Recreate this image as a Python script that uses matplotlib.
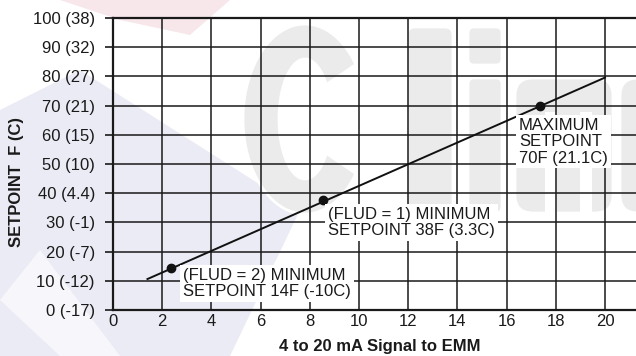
import matplotlib
matplotlib.use("Agg")
import numpy as np
import matplotlib.pyplot as plt
from matplotlib.patches import Polygon, Rectangle, FancyBboxPatch

plt.rcParams['font.family'] = ['Liberation Sans', 'DejaVu Sans']

# ---- data ----
line_x = [1.4, 20.0]
line_y = [10.6, 79.6]
point_x = [2.35, 8.55, 17.35]
point_y = [14.3, 37.6, 70.0]
x_ticks = [0, 2, 4, 6, 8, 10, 12, 14, 16, 18, 20]
y_ticks = [0, 10, 20, 30, 40, 50, 60, 70, 80, 90, 100]
y_tick_labels = ["0 (-17)", "10 (-12)", "20 (-7)", "30 (-1)", "40 (4.4)", "50 (10)",
                 "60 (15)", "70 (21)", "80 (27)", "90 (32)", "100 (38)"]
notes = ["(FLUD = 2) MINIMUM\nSETPOINT 14F (-10C)",
         "(FLUD = 1) MINIMUM\nSETPOINT 38F (3.3C)",
         "MAXIMUM\nSETPOINT\n70F (21.1C)"]
note_x = [2.85, 8.74, 16.5]
note_y = [9.0, 30.0, 57.6]

fig = plt.figure(figsize=(6.36, 3.56), dpi=100)
fig.patch.set_facecolor('white')

# faint background logo shapes (decorative, figure pixel space)
bg = fig.add_axes([0, 0, 1, 1], zorder=-5)
bg.set_xlim(0, 636); bg.set_ylim(356, 0); bg.axis('off')
bg.add_patch(Polygon([[0, 110], [80, 70], [300, 210], [230, 356], [0, 356]],
                     closed=True, facecolor='#ebebf5', edgecolor='none'))
bg.add_patch(Polygon([[0, 300], [40, 250], [120, 356], [60, 356]],
                     closed=True, facecolor='#f7f7fb', edgecolor='none'))
bg.add_patch(Polygon([[60, 0], [230, 0], [190, 35], [120, 20]],
                     closed=True, facecolor='#f7e7ea', edgecolor='none'))
wm = '#ebebeb'
# "C"
th_o = np.radians(np.linspace(35, 325, 80))
th_i = th_o[::-1]
cx, cy = 305, 119
outer = np.column_stack([cx + 62 * np.cos(th_o), cy - 95 * np.sin(th_o)])
inner = np.column_stack([cx + 26 * np.cos(th_i), cy - 60 * np.sin(th_i)])
bg.add_patch(Polygon(np.vstack([outer, inner]), closed=True, facecolor=wm,
                     edgecolor='white', linewidth=2))
# "l"
bg.add_patch(FancyBboxPatch((407, 27), 46, 186, boxstyle="round,pad=0,rounding_size=8",
                            facecolor=wm, edgecolor='white', linewidth=2))
# "i"
bg.add_patch(FancyBboxPatch((468, 78), 34, 135, boxstyle="round,pad=0,rounding_size=6",
                            facecolor=wm, edgecolor='white', linewidth=2))
bg.add_patch(FancyBboxPatch((468, 27), 34, 38, boxstyle="round,pad=0,rounding_size=6",
                            facecolor=wm, edgecolor='white', linewidth=2))
# "m"
bg.add_patch(FancyBboxPatch((515, 78), 98, 135, boxstyle="round,pad=0,rounding_size=18",
                            facecolor=wm, edgecolor='white', linewidth=2))
bg.add_patch(Rectangle((545, 112), 12, 102, facecolor='white', edgecolor='none'))
bg.add_patch(Rectangle((580, 112), 12, 102, facecolor='white', edgecolor='none'))
# "a" (partial)
bg.add_patch(FancyBboxPatch((620, 78), 40, 135, boxstyle="round,pad=0,rounding_size=18",
                            facecolor=wm, edgecolor='white', linewidth=2))

ax = fig.add_axes([113/636, 1 - 310/356, 523/636, 292/356])
ax.set_facecolor('none')
ax.set_xlim(0, 523/24.6)
ax.set_ylim(0, 100)

ax.set_xticks(x_ticks)
ax.set_xticklabels([str(v) for v in x_ticks])
ax.set_yticks(y_ticks)
ax.set_yticklabels(y_tick_labels)
ax.tick_params(axis='x', length=0, pad=3, labelsize=12, colors='#1a1a1a')
ax.tick_params(axis='y', length=6, width=1.2, pad=7, labelsize=12, colors='#1a1a1a',
               direction='out')
ax.grid(True, color='#1a1a1a', linewidth=1.1, zorder=1)
ax.set_axisbelow(True)
for s in ['left', 'bottom', 'top']:
    ax.spines[s].set_linewidth(1.6)
    ax.spines[s].set_color('#1a1a1a')
ax.spines['right'].set_visible(False)

ax.plot(line_x, line_y, color='#111111', linewidth=1.4, zorder=3)
ax.plot(point_x, point_y, 'o', color='#111111', markersize=6, zorder=4)

for t, xx, yy in zip(notes, note_x, note_y):
    ax.text(xx, yy, t, fontsize=12, ha='left', va='center', color='#1a1a1a',
            linespacing=1.1, zorder=5,
            bbox=dict(facecolor='white', edgecolor='none', pad=2))

ax.set_xlabel("4 to 20 mA Signal to EMM", fontsize=12, fontweight='bold',
              color='#1a1a1a', va='center')
ax.xaxis.set_label_coords(0.51, -(346 - 310) / 292)
ax.set_ylabel("SETPOINT  F (C)", fontsize=12, fontweight='bold',
              color='#1a1a1a', va='center')
ax.yaxis.set_label_coords((17 - 113) / 523, 0.44)

fig.savefig("out.png", dpi=100)
